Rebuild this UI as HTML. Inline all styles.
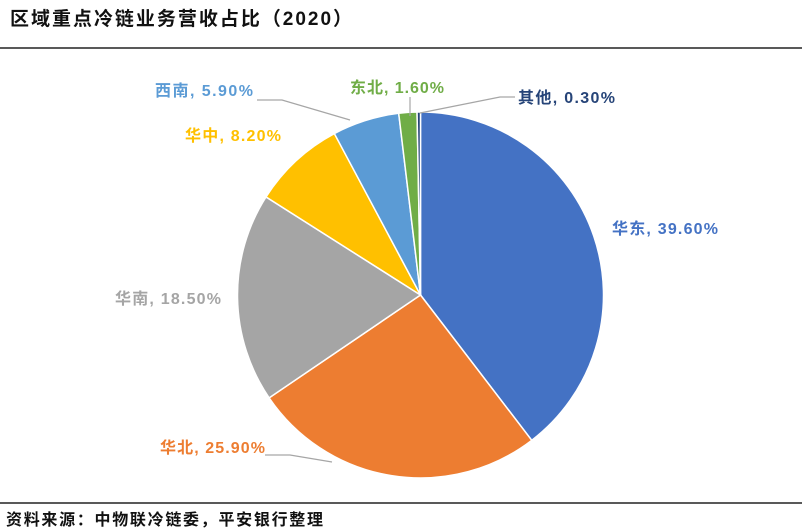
<!DOCTYPE html>
<html><head><meta charset="utf-8"><style>
body{margin:0;background:#fff;width:802px;height:532px;overflow:hidden;font-family:"Liberation Sans","Noto Sans CJK SC",sans-serif}
</style></head><body>
<svg id="s" width="802" height="532" xmlns="http://www.w3.org/2000/svg" style="position:absolute;left:0;top:0">
<text x="10" y="25" font-size="19" font-weight="bold" fill="#111" textLength="342" font-family="Liberation Sans, Noto Sans CJK SC, sans-serif">区域重点冷链业务营收占比（2020）</text>
<line x1="0" y1="48" x2="802" y2="48" stroke="#222" stroke-width="1.5"/>
<line x1="0" y1="503" x2="802" y2="503" stroke="#222" stroke-width="1.5"/>
<text x="6" y="525" font-size="16" font-weight="bold" fill="#111" textLength="317" font-family="Liberation Sans, Noto Sans CJK SC, sans-serif">资料来源：中物联冷链委，平安银行整理</text>
<g id="pie"></g>
<g stroke="#a6a6a6" stroke-width="1.2" fill="none">
<polyline points="257,100 282,100 350,120"/>
<polyline points="265,455 290,455 332,462"/>
<polyline points="410,97 410,116"/>
<polyline points="515,97 500,97 420,113"/>
</g>
<g font-size="16" font-weight="bold" font-family="Liberation Sans, Noto Sans CJK SC, sans-serif">
<text x="612" y="234" fill="#4472C4" textLength="106">华东, 39.60%</text>
<text x="160" y="453" fill="#ED7D31" textLength="105">华北, 25.90%</text>
<text x="115" y="304" fill="#A5A5A5" textLength="106">华南, 18.50%</text>
<text x="185" y="141" fill="#FFC000" textLength="96">华中, 8.20%</text>
<text x="155" y="96" fill="#5B9BD5" textLength="98">西南, 5.90%</text>
<text x="350" y="93" fill="#70AD47" textLength="94">东北, 1.60%</text>
<text x="518" y="103" fill="#264478" textLength="97">其他, 0.30%</text>
</g>
</svg>
<script>
var d=[[39.6,"#4472C4"],[25.9,"#ED7D31"],[18.5,"#A5A5A5"],[8.2,"#FFC000"],[5.9,"#5B9BD5"],[1.6,"#70AD47"],[0.3,"#264478"]];
var cx=420.5,cy=295,r=183,a=0,g=document.getElementById("pie"),h="";
d.forEach(function(e){var a0=a*Math.PI/50,a1=(a+e[0])*Math.PI/50;a+=e[0];
var x0=cx+r*Math.sin(a0),y0=cy-r*Math.cos(a0),x1=cx+r*Math.sin(a1),y1=cy-r*Math.cos(a1);
h+='<path d="M'+cx+','+cy+'L'+x0+','+y0+'A'+r+','+r+' 0 '+(e[0]>50?1:0)+' 1 '+x1+','+y1+'Z" fill="'+e[1]+'" stroke="#fff" stroke-width="1.5"/>';});
g.innerHTML=h;
</script>
</body></html>
